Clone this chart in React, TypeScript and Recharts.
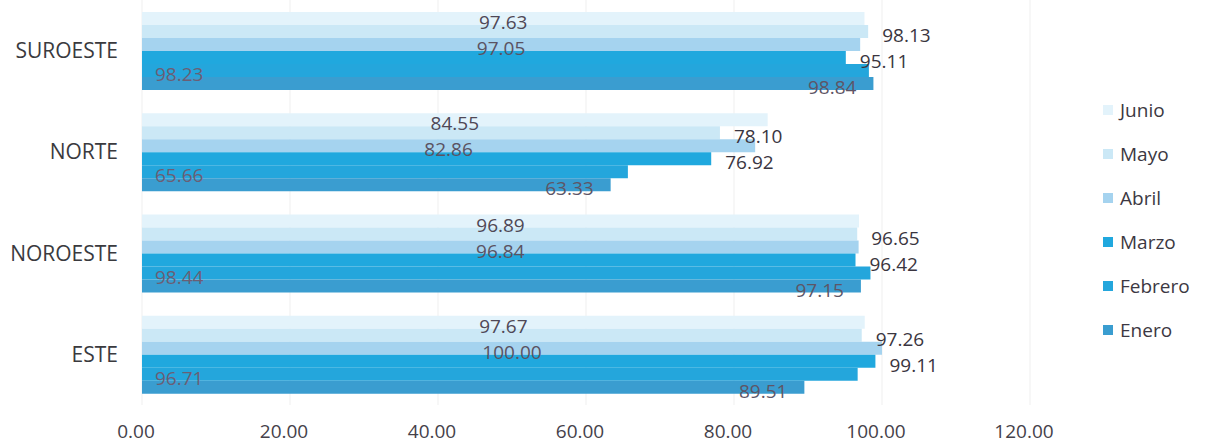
import { Bar, BarChart, CartesianGrid, LabelList, Legend, XAxis, YAxis } from 'recharts';

const categories = ['SUROESTE', 'NORTE', 'NOROESTE', 'ESTE'];
const junio = [97.63, 84.55, 96.89, 97.67];
const mayo = [98.13, 78.1, 96.65, 97.26];
const abril = [97.05, 82.86, 96.84, 100.0];
const marzo = [95.11, 76.92, 96.42, 99.11];
const febrero = [98.23, 65.66, 98.44, 96.71];
const enero = [98.84, 63.33, 97.15, 89.51];
const xTicks = [0, 20, 40, 60, 80, 100, 120];

type Pos = 'center' | 'right' | 'insideLeft' | 'insideRight';

const series: { key: string; values: number[]; color: string; pos: Pos; offset: number; labelColor: string }[] = [
  { key: 'Junio', values: junio, color: '#e3f3fb', pos: 'center', offset: 0, labelColor: '#4f4856' },
  { key: 'Mayo', values: mayo, color: '#cbe8f6', pos: 'right', offset: 14, labelColor: '#3a3540' },
  { key: 'Abril', values: abril, color: '#a5d3ef', pos: 'center', offset: 0, labelColor: '#5a5262' },
  { key: 'Marzo', values: marzo, color: '#20a8de', pos: 'right', offset: 14, labelColor: '#3a3540' },
  { key: 'Febrero', values: febrero, color: '#24a6dc', pos: 'insideLeft', offset: 13, labelColor: '#6b5e74' },
  { key: 'Enero', values: enero, color: '#3a9dd0', pos: 'insideRight', offset: 17, labelColor: '#5e5566' },
];

const data = categories.map((name, i) => {
  const row: Record<string, string | number> = { name };
  for (const s of series) row[s.key] = s.values[i];
  return row;
});

const FONT = '"Open Sans", sans-serif';

// legend in series order (Recharts sorts it by name otherwise)
function LegendBox() {
  return (
    <div style={{ fontFamily: FONT, fontSize: 19, color: '#3c3842' }}>
      {series.map((s) => (
        <div key={s.key} style={{ height: 44, display: 'flex', alignItems: 'center' }}>
          <span style={{ width: 10, height: 10, background: s.color, marginRight: 7, display: 'inline-block' }} />
          {s.key}
        </div>
      ))}
    </div>
  );
}

export default function App() {
  return (
    <div style={{ width: 1206, height: 448, background: '#fff' }}>
      <style>{'body{margin:0}'}</style>
      <BarChart
        width={1206}
        height={448}
        data={data}
        layout="vertical"
        margin={{ top: 0, right: 76, bottom: 0, left: 0 }}
        barCategoryGap={12}
        barGap={0}
      >
        <CartesianGrid stroke="#efefef" horizontal={false} />
        <XAxis
          type="number"
          domain={[0, 120]}
          ticks={xTicks}
          height={43}
          axisLine={false}
          tickLine={false}
          tickMargin={14}
          tickFormatter={(v: number) => v.toFixed(2)}
          tick={{ fontSize: 19, fill: '#45414a', fontFamily: FONT, dx: -6 }}
        />
        <YAxis
          type="category"
          dataKey="name"
          width={142}
          axisLine={false}
          tickLine={false}
          tickMargin={18}
          tick={{ fontSize: 21, fill: '#3a3a3e', fontFamily: FONT }}
        />
        <Legend
          layout="vertical"
          align="right"
          verticalAlign="middle"
          wrapperStyle={{ width: 100, left: 1103, top: 88 }}
          content={() => <LegendBox />}
        />
        {series.map((s) => (
          <Bar key={s.key} dataKey={s.key} name={s.key} fill={s.color} isAnimationActive={false}>
            <LabelList
              dataKey={s.key}
              position={s.pos}
              offset={s.offset}
              formatter={(v: any) => Number(v).toFixed(2)}
              style={{ fontSize: 19, fontFamily: FONT, fill: s.labelColor }}
              dy={4}
            />
          </Bar>
        ))}
      </BarChart>
    </div>
  );
}
